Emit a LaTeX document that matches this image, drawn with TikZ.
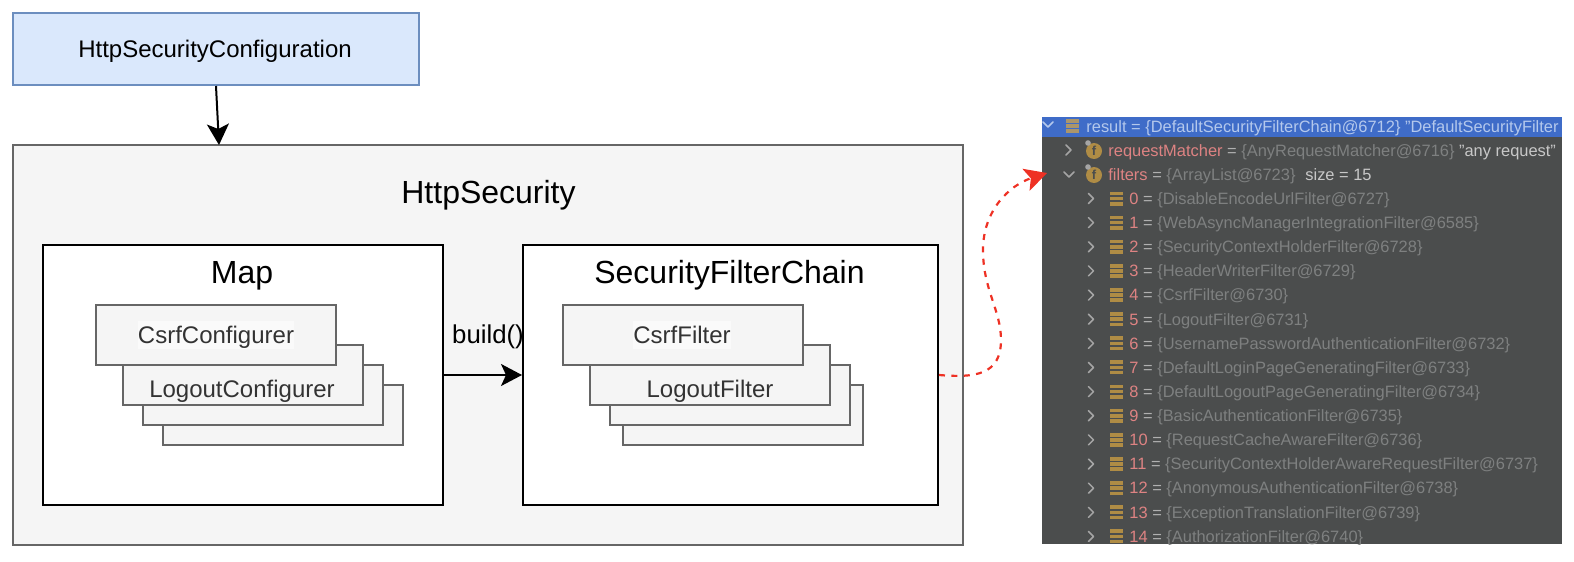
\documentclass[tikz,border=0pt]{standalone}
\usepackage{fontspec}
\setmainfont{Liberation Sans}
\usetikzlibrary{arrows.meta}
\definecolor{cfgfill}{HTML}{DAE8FC}
\definecolor{cfgline}{HTML}{6C8EBF}
\definecolor{grayfill}{HTML}{F5F5F5}
\definecolor{grayline}{HTML}{666666}
\definecolor{labelfill}{HTML}{FAFAFA}
\definecolor{redline}{HTML}{EE3124}
\definecolor{panelbg}{HTML}{4B4D4D}
\definecolor{headbg}{HTML}{3F6CC8}
\definecolor{headtx}{HTML}{B4C8EC}
\definecolor{numtx}{HTML}{DE8383}
\definecolor{eqtx}{HTML}{B0B0B0}
\definecolor{valtx}{HTML}{7E8080}
\definecolor{lighttx}{HTML}{C8C8C8}
\definecolor{gold}{HTML}{AF8C45}
\definecolor{chev}{HTML}{A5A5A5}
\newcommand{\fsA}{\fontsize{12}{14}\selectfont}
\newcommand{\fsB}{\fontsize{16}{19}\selectfont}
\newcommand{\fsC}{\fontsize{12.9}{15}\selectfont}
\newcommand{\fsD}{\fontsize{8.22}{10}\selectfont}
\tikzset{
  box/.style={rectangle,inner sep=0pt,minimum width=#1*0.5pt},
  boxh/.style={minimum height=#1*0.5pt},
  cfgbox/.style={box=406,boxh=72,draw=cfgline,fill=cfgfill,line width=1pt,font=\fsA,text=black},
  outerbox/.style={box=950,boxh=400,draw=grayline,fill=grayfill,line width=1pt},
  blackbox/.style={rectangle,inner sep=0pt,boxh=260,draw=black,fill=white,line width=1pt},
  stackbox/.style={box=240,draw=grayline,fill=grayfill,line width=1pt},
  blabel/.style={anchor=base,inner sep=0pt},
  biglabel/.style={blabel,font=\fsB,text=black},
  smalllabel/.style={blabel,font=\fsA,text=black!80},
  hilite/.style={rectangle,inner sep=0pt,fill=labelfill,minimum height=14pt},
  blackarrow/.style={draw=black,line width=1pt,-{Stealth[length=10.5pt,width=11pt,inset=2.5pt]}},
  redarrow/.style={draw=redline,line width=1.1pt,dash pattern=on 3pt off 3.2pt,-{Stealth[length=11pt,width=11.5pt,inset=2.5pt]}},
  row/.style={anchor=base west,inner sep=0pt,font=\fsD},
  chevron/.style={draw=chev,line width=0.75pt,line cap=round,line join=round},
}
% three stacked bars: centre x, centre y, colour
\newcommand{\bars}[3]{%
  \fill[#3] (#1-6.5,#2-7) rectangle (#1+6.5,#2-3.4);
  \fill[#3] (#1-6.5,#2-1.8) rectangle (#1+6.5,#2+1.8);
  \fill[#3] (#1-6.5,#2+3.4) rectangle (#1+6.5,#2+7);
}
\newcommand{\fieldicon}[2]{%
  \fill[gold] (#1,#2) circle (8);
  \fill[chev] (#1-6,#2-8) circle (2.8);
  \node[inner sep=0pt,font=\fontsize{6.5}{7}\bfseries\selectfont,text=panelbg] at (#1,#2) {f};
}
\begin{document}
\begin{tikzpicture}[x=0.5pt,y=-0.5pt]
\useasboundingbox (0,0) rectangle (1574,562);
% --- left diagram
\node[cfgbox,text depth=0pt] (config) at (216,49) {};
\node[blabel,font=\fsA,text=black] (configtx) at (215,57.5) {HttpSecurityConfiguration};
\node[outerbox] (httpsec) at (488,345) {};
\coordinate (hsIn) at (219,145);
\node[biglabel] (hstx) at (488.5,203) {HttpSecurity};
\node[blackbox,minimum width=200pt] (map) at (243,375) {};
\node[biglabel] (maptx) at (242,283) {Map};
\node[blackbox,minimum width=207.5pt] (sfc) at (730.5,375) {};
\node[biglabel] (sfctx) at (729.5,283) {SecurityFilterChain};
% Map stack
\node[stackbox,boxh=60] (m4) at (283,415) {};
\node[stackbox,boxh=60] (m3) at (263,395) {};
\node[stackbox,boxh=60] (m2) at (243,375) {};
\node[stackbox,boxh=60] (m1) at (216,335) {};
\node[hilite,minimum width=78pt] (m1bg) at (216,335) {};
\node[smalllabel] (m1tx) at (216,343) {CsrfConfigurer};
\node[smalllabel] (m2tx) at (242,397) {LogoutConfigurer};
% SFC stack
\node[stackbox,boxh=60] (s4) at (743,415) {};
\node[stackbox,boxh=60] (s3) at (730,395) {};
\node[stackbox,boxh=60] (s2) at (710,375) {};
\node[stackbox,boxh=60] (s1) at (683,335) {};
\node[hilite,minimum width=49pt] (s1bg) at (682,335) {};
\node[smalllabel] (s1tx) at (682,343) {CsrfFilter};
\node[smalllabel] (s2tx) at (710,397) {LogoutFilter};
% connectors
\draw[blackarrow] (config.south) -- (hsIn);
\draw[blackarrow] (map.east) -- (sfc.west);
\node[blabel,font=\fsC,text=black] (buildtx) at (488,343) {build()};
% --- debugger panel
\node[rectangle,inner sep=0pt,minimum width=260pt,minimum height=213.5pt,fill=panelbg] (panel) at (1302,330.5) {};
\begin{scope}
\clip (panel.north west) rectangle (panel.south east);
\fill[headbg] (panel.north west) rectangle (1562,137);
\draw[chevron,draw=headtx] (1043,122) -- (1048,127) -- (1053,122);
\bars{1072}{126}{gold!60!chev}
\node[row,text=headtx] (result) at (1086,132) {result = \{DefaultSecurityFilterChain@6712\} "DefaultSecurityFilter};
% field rows
\draw[chevron] (1066,145) -- (1071,150) -- (1066,155);
\fieldicon{1094}{151}
\node[row] (reqm) at (1108,156) {\textcolor{numtx}{requestMatcher} \textcolor{eqtx}{=} \textcolor{valtx}{\{AnyRequestMatcher@6716\}} \textcolor{lighttx}{"any request"}};
\draw[chevron] (1064,172) -- (1069,177) -- (1074,172);
\fieldicon{1094}{175}
\node[row] (filters) at (1108,180) {\textcolor{numtx}{filters} \textcolor{eqtx}{=} \textcolor{valtx}{\{ArrayList@6723\}}\hspace{0.6em}\textcolor{lighttx}{size = 15}};
\foreach \i/\t in {0/DisableEncodeUrlFilter@6727,1/WebAsyncManagerIntegrationFilter@6585,2/SecurityContextHolderFilter@6728,3/HeaderWriterFilter@6729,4/CsrfFilter@6730,5/LogoutFilter@6731,6/UsernamePasswordAuthenticationFilter@6732,7/DefaultLoginPageGeneratingFilter@6733,8/DefaultLogoutPageGeneratingFilter@6734,9/BasicAuthenticationFilter@6735,10/RequestCacheAwareFilter@6736,11/SecurityContextHolderAwareRequestFilter@6737,12/AnonymousAuthenticationFilter@6738,13/ExceptionTranslationFilter@6739,14/AuthorizationFilter@6740}{
  \pgfmathsetmacro{\yy}{198.5+24.14*\i}
  \draw[chevron] (1088.5,\yy-5) -- (1093.5,\yy) -- (1088.5,\yy+5);
  \bars{1116.5}{\yy}{gold}
  \node[row] (item\i) at (1129,\yy+5.8) {\textcolor{numtx}{\i} \textcolor{eqtx}{=} \textcolor{valtx}{\{\t\}}};
}
\end{scope}
% red connector
\coordinate (panelIn) at (1047,173);
\draw[redarrow] (sfc.east) .. controls (975,378) and (1001,375) .. (1001,340)
  .. controls (1001,310) and (983,290) .. (983,250)
  .. controls (983,210) and (1010,185) .. (panelIn);
\end{tikzpicture}
\end{document}
